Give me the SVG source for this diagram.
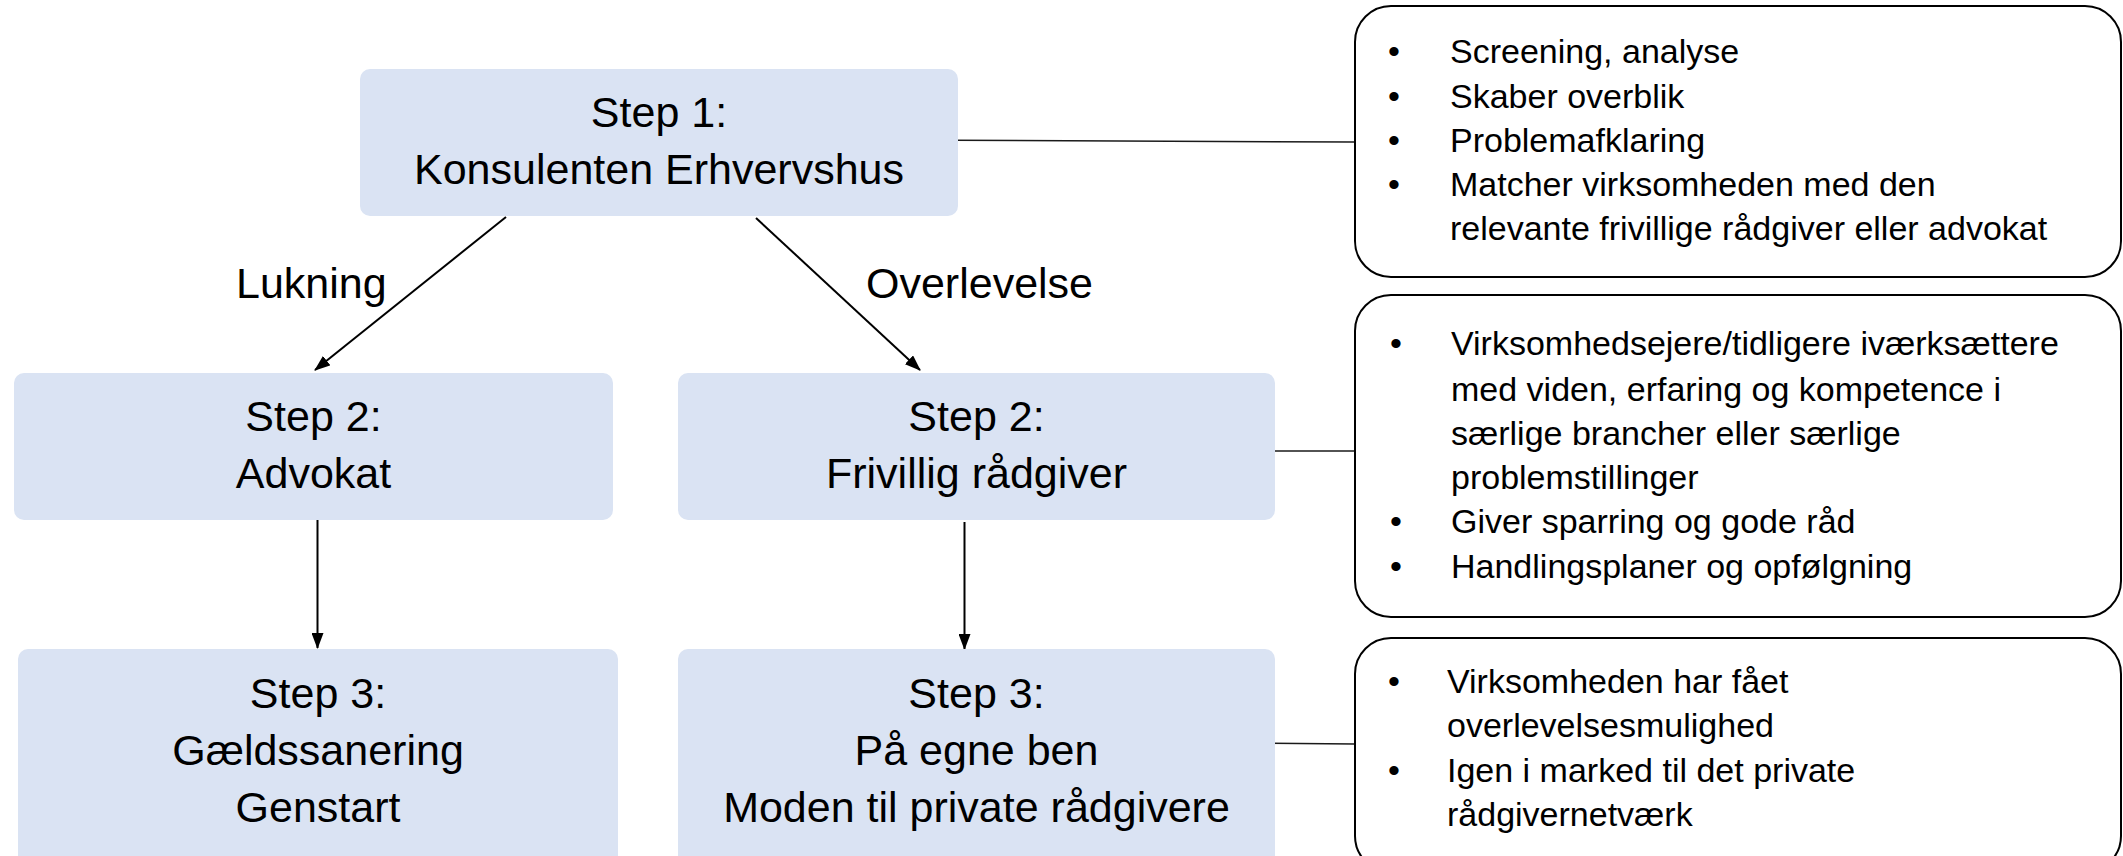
<svg xmlns="http://www.w3.org/2000/svg" width="2123" height="856" viewBox="0 0 2123 856">
<style>
.step{fill:#DAE3F3;stroke:none}
.call{fill:#FFFFFF;stroke:#000000;stroke-width:2}
.t{font-family:"Liberation Sans",Arial,sans-serif;fill:#000000}
.big{font-size:43px;text-anchor:middle}
.lbl{font-size:43px}
.sm{font-size:34px}
.arr{stroke:#000000;stroke-width:2;fill:none;marker-end:url(#ah)}
.ln{stroke:#1a1a1a;stroke-width:1.5;fill:none}
</style>
<defs>
<marker id="ah" markerWidth="16" markerHeight="12" refX="15" refY="6" orient="auto" markerUnits="userSpaceOnUse">
<path d="M0,0 L16,6 L0,12 Z" fill="#000000"/>
</marker>
</defs>
<rect width="2123" height="856" fill="#FFFFFF"/>
<g id="connectors">
<line class="arr" x1="506" y1="217" x2="315" y2="370"/>
<line class="arr" x1="756" y1="218" x2="920" y2="370"/>
<line class="arr" x1="317.5" y1="520" x2="317.5" y2="648"/>
<line class="arr" x1="964.5" y1="522" x2="964.5" y2="649"/>
<line class="ln" x1="887" y1="140" x2="1355" y2="142"/>
<line class="ln" x1="1234" y1="451" x2="1355" y2="451"/>
<line class="ln" x1="1234" y1="743" x2="1355" y2="744"/>
<text class="t lbl" x="236" y="298">Lukning</text>
<text class="t lbl" x="866" y="298">Overlevelse</text>
</g>
<g id="step1">
<rect class="step" x="360" y="69" width="598" height="147" rx="10"/>
<text class="t big" x="659" y="127">Step 1:</text>
<text class="t big" x="659" y="184">Konsulenten Erhvervshus</text>
</g>
<g id="step2-advokat">
<rect class="step" x="14" y="373" width="599" height="147" rx="10"/>
<text class="t big" x="313.5" y="431">Step 2:</text>
<text class="t big" x="313.5" y="488">Advokat</text>
</g>
<g id="step2-frivillig">
<rect class="step" x="678" y="373" width="597" height="147" rx="10"/>
<text class="t big" x="976.5" y="431">Step 2:</text>
<text class="t big" x="976.5" y="488">Frivillig rådgiver</text>
</g>
<g id="step3-gaeld">
<rect class="step" x="18" y="649" width="600" height="230" rx="10"/>
<text class="t big" x="318" y="708">Step 3:</text>
<text class="t big" x="318" y="765">Gældssanering</text>
<text class="t big" x="318" y="822">Genstart</text>
</g>
<g id="step3-egne">
<rect class="step" x="678" y="649" width="597" height="230" rx="10"/>
<text class="t big" x="976.5" y="708">Step 3:</text>
<text class="t big" x="976.5" y="765">På egne ben</text>
<text class="t big" x="976.5" y="822">Moden til private rådgivere</text>
</g>
<g id="callout1">
<rect class="call" x="1355" y="6" width="766" height="271" rx="36"/>
<text class="t sm" x="1388" y="63">•</text>
<text class="t sm" x="1450" y="63">Screening, analyse</text>
<text class="t sm" x="1388" y="108">•</text>
<text class="t sm" x="1450" y="108">Skaber overblik</text>
<text class="t sm" x="1388" y="152">•</text>
<text class="t sm" x="1450" y="152">Problemafklaring</text>
<text class="t sm" x="1388" y="196">•</text>
<text class="t sm" x="1450" y="196">Matcher virksomheden med den</text>
<text class="t sm" x="1450" y="240">relevante frivillige rådgiver eller advokat</text>
</g>
<g id="callout2">
<rect class="call" x="1355" y="295" width="766" height="322" rx="36"/>
<text class="t sm" x="1390" y="355">•</text>
<text class="t sm" x="1451" y="355">Virksomhedsejere/tidligere iværksættere</text>
<text class="t sm" x="1451" y="401">med viden, erfaring og kompetence i</text>
<text class="t sm" x="1451" y="445">særlige brancher eller særlige</text>
<text class="t sm" x="1451" y="489">problemstillinger</text>
<text class="t sm" x="1390" y="533">•</text>
<text class="t sm" x="1451" y="533">Giver sparring og gode råd</text>
<text class="t sm" x="1390" y="578">•</text>
<text class="t sm" x="1451" y="578">Handlingsplaner og opfølgning</text>
</g>
<g id="callout3">
<rect class="call" x="1355" y="638" width="766" height="234" rx="36"/>
<text class="t sm" x="1388" y="693">•</text>
<text class="t sm" x="1447" y="693">Virksomheden har fået</text>
<text class="t sm" x="1447" y="737">overlevelsesmulighed</text>
<text class="t sm" x="1388" y="782">•</text>
<text class="t sm" x="1447" y="782">Igen i marked til det private</text>
<text class="t sm" x="1447" y="826">rådgivernetværk</text>
</g>
</svg>
